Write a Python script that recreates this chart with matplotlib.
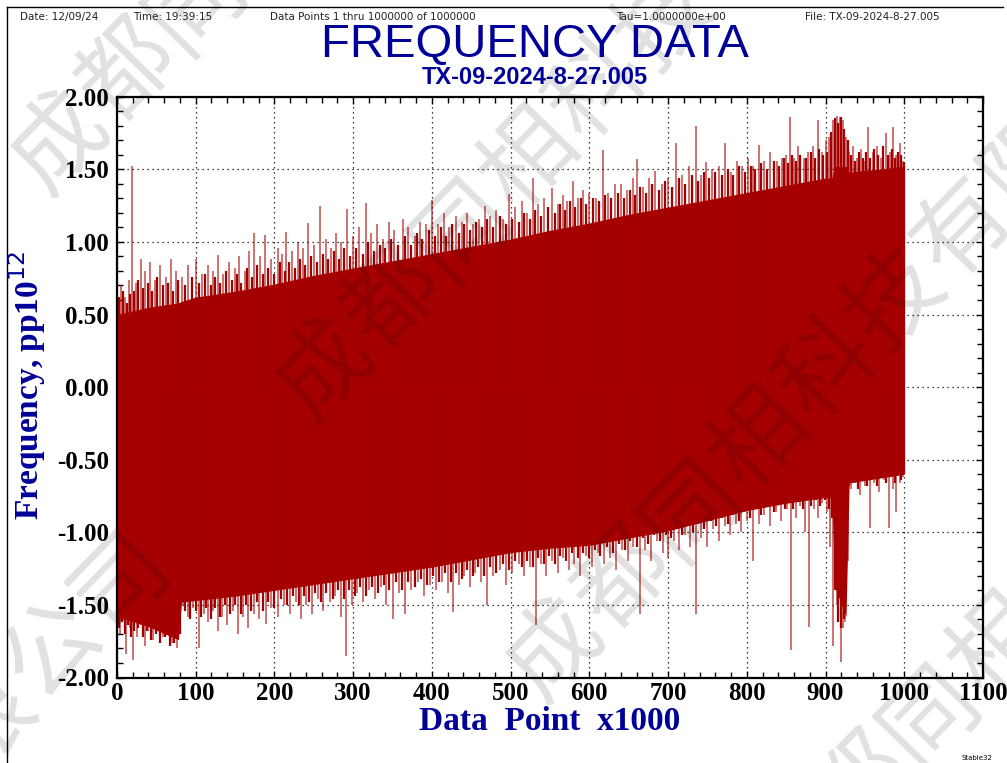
import numpy as np
import matplotlib
matplotlib.use('Agg')
import matplotlib.pyplot as plt
from matplotlib.ticker import MultipleLocator, FormatStrFormatter
from matplotlib.lines import Line2D

plt.rcParams['axes.unicode_minus'] = False

# ---- data (x in units of 1000 data points, y in pp10^12) ----
# dense core of the trace
core_x = [0, 40, 78, 82, 100, 150, 200, 250, 300, 350, 400, 450, 500, 550, 600,
          650, 700, 750, 800, 850, 900, 908, 912, 926, 930, 1000]
core_hi = [0.50, 0.55, 0.58, 0.59, 0.62, 0.66, 0.71, 0.77, 0.82, 0.87, 0.92, 0.97,
           1.02, 1.08, 1.13, 1.19, 1.24, 1.29, 1.34, 1.39, 1.44, 1.44, 1.52, 1.52,
           1.48, 1.52]
core_lo = [-1.58, -1.65, -1.74, -1.48, -1.47, -1.44, -1.40, -1.36, -1.32, -1.28,
           -1.24, -1.19, -1.14, -1.11, -1.09, -1.04, -0.99, -0.92, -0.85, -0.80,
           -0.76, -0.76, -1.38, -1.58, -0.66, -0.60]

# tall upper spikes (position, tip)
up_x = [0, 5, 10, 15, 19.5, 24, 30, 36, 42, 48, 55, 62, 68, 75, 82, 90, 100, 108,
        116, 122, 128, 135, 142, 150, 155, 162, 168, 174, 182, 188, 196, 204, 210,
        215, 222, 230, 236, 242, 250, 258, 265, 272, 278, 285, 292, 300, 308, 316,
        322, 330, 338, 345, 352, 363, 370, 378, 385, 392, 400, 408, 415, 422, 430,
        438, 445, 452, 460, 467, 474, 482, 490, 498, 506, 514, 521, 528, 535, 543,
        553, 560, 566, 572, 579, 586, 592, 600, 608, 617, 624, 632, 640, 648, 655,
        661, 668, 676, 684, 692, 700, 710, 718, 726, 735, 742, 748, 756, 765, 772,
        780, 787, 794, 802, 808, 815, 822, 830, 838, 845, 850, 855, 860, 865, 872,
        878, 884, 890, 895, 900, 905, 910, 914, 918, 922, 926, 930, 935, 940, 945,
        950, 954, 960, 965, 970, 977, 982, 986, 990, 994, 998]
up_y = [0.78, 0.70, 0.62, 0.74, 1.52, 0.72, 0.88, 0.80, 0.86, 0.74, 0.84, 0.76,
        0.88, 0.80, 0.76, 0.84, 0.88, 0.78, 0.84, 0.80, 0.91, 0.78, 0.86, 0.82,
        0.90, 0.80, 0.94, 1.06, 0.90, 1.05, 0.88, 0.96, 0.92, 1.07, 0.94, 1.00,
        0.96, 1.13, 0.98, 1.25, 1.02, 0.96, 1.06, 1.00, 1.23, 1.04, 1.10, 1.27,
        1.06, 1.12, 1.02, 1.14, 1.08, 1.16, 1.10, 1.04, 1.14, 1.12, 1.29, 1.12,
        1.20, 1.10, 1.18, 1.14, 1.20, 1.12, 1.16, 1.25, 1.18, 1.22, 1.16, 1.33,
        1.24, 1.28, 1.20, 1.44, 1.26, 1.30, 1.37, 1.26, 1.32, 1.28, 1.42, 1.30,
        1.36, 1.34, 1.30, 1.63, 1.34, 1.40, 1.40, 1.36, 1.44, 1.57, 1.38, 1.44,
        1.49, 1.40, 1.44, 1.68, 1.46, 1.52, 1.80, 1.46, 1.55, 1.50, 1.52, 1.68,
        1.48, 1.56, 1.52, 1.58, 1.52, 1.67, 1.56, 1.62, 1.56, 1.58, 1.60, 1.86,
        1.58, 1.66, 1.58, 1.62, 1.66, 1.84, 1.62, 1.70, 1.72, 1.84, 1.87, 1.86,
        1.84, 1.72, 1.62, 1.66, 1.58, 1.64, 1.56, 1.79, 1.62, 1.66, 1.58, 1.75,
        1.62, 1.79, 1.60, 1.68, 1.56]

# shorter upper spikes in the ragged fringe
up2_x = [2.5, 7.5, 12.5, 17, 22, 27, 33, 39, 45, 51, 58, 65, 71, 78, 86, 95, 104,
         112, 119, 125, 131, 138, 146, 152, 158, 165, 171, 178, 185, 192, 200, 207,
         213, 219, 226, 233, 239, 246, 254, 262, 268, 275, 282, 288, 296, 304, 312,
         319, 326, 334, 341, 348, 357, 366, 374, 381, 388, 396, 404, 411, 418, 426,
         434, 441, 448, 456, 463, 470, 478, 486, 494, 502, 510, 517, 524, 531, 539,
         548, 556, 563, 569, 575, 582, 589, 596, 604, 612, 620, 628, 636, 644, 651,
         658, 664, 672, 680, 688, 696, 705, 714, 722, 730, 738, 745, 752, 760, 768,
         776, 783, 790, 798, 805, 811, 818, 826, 834, 841, 847, 852, 857, 862, 868,
         875, 881, 887, 892, 897, 902, 907, 912, 916, 920, 924, 928, 932, 937, 942,
         947, 952, 957, 962, 967, 973, 979, 984, 988, 992, 996, 1000]
up2_y = [0.62, 0.66, 0.58, 0.64, 0.66, 0.74, 0.68, 0.72, 0.66, 0.76, 0.70, 0.72,
         0.66, 0.74, 0.70, 0.76, 0.72, 0.78, 0.70, 0.76, 0.72, 0.80, 0.74, 0.78,
         0.72, 0.82, 0.76, 0.84, 0.78, 0.82, 0.78, 0.86, 0.80, 0.86, 0.82, 0.88,
         0.84, 0.90, 0.86, 0.92, 0.88, 0.94, 0.88, 0.96, 0.90, 0.96, 0.92, 1.00,
         0.94, 0.98, 0.96, 1.02, 0.98, 1.04, 0.98, 1.06, 1.02, 1.08, 1.04, 1.10,
         1.04, 1.12, 1.06, 1.12, 1.08, 1.14, 1.10, 1.16, 1.10, 1.18, 1.12, 1.16,
         1.14, 1.20, 1.16, 1.22, 1.18, 1.24, 1.20, 1.26, 1.22, 1.28, 1.24, 1.30,
         1.26, 1.30, 1.28, 1.32, 1.30, 1.34, 1.30, 1.36, 1.32, 1.38, 1.34, 1.40,
         1.36, 1.42, 1.38, 1.44, 1.40, 1.46, 1.42, 1.48, 1.44, 1.48, 1.46, 1.50,
         1.46, 1.52, 1.48, 1.52, 1.50, 1.54, 1.50, 1.56, 1.52, 1.58, 1.54, 1.60,
         1.56, 1.60, 1.58, 1.62, 1.58, 1.64, 1.60, 1.62, 1.76, 1.85, 1.82, 1.86,
         1.78, 1.70, 1.60, 1.56, 1.62, 1.58, 1.62, 1.58, 1.64, 1.60, 1.66, 1.60,
         1.64, 1.58, 1.62, 1.60, 1.55]

# tall lower spikes (position, tip)
lo_x = [0, 4, 8, 12, 16, 20, 25, 30, 35, 40, 46, 52, 58, 64, 70, 76, 84, 90, 96,
        104, 110, 116, 122, 128, 134, 140, 147, 154, 160, 167, 174, 181, 189, 196,
        204, 212, 220, 227, 234, 240, 248, 255, 262, 270, 277, 284, 291, 298, 305,
        312, 320, 328, 335, 342, 350, 358, 366, 374, 382, 390, 398, 405, 413, 420,
        427, 434, 441, 448, 455, 462, 470, 478, 486, 494, 502, 510, 517, 525, 532,
        538, 545, 552, 560, 567, 574, 581, 588, 596, 603, 611, 618, 626, 634, 641,
        649, 656, 664, 671, 678, 686, 693, 700, 707, 714, 721, 728, 735, 742, 750,
        757, 765, 772, 779, 786, 793, 800, 808, 815, 822, 830, 837, 844, 851, 856,
        862, 868, 874, 879, 885, 890, 896, 902, 906, 910, 914, 917, 919, 922, 925,
        928, 932, 938, 944, 950, 956, 962, 968, 974, 980, 986, 990, 994, 998]
lo_y = [-1.62, -1.70, -1.60, -1.84, -1.66, -1.88, -1.72, -1.64, -1.78, -1.68,
        -1.74, -1.66, -1.72, -1.64, -1.76, -1.80, -1.50, -1.58, -1.52, -1.80,
        -1.56, -1.62, -1.54, -1.68, -1.58, -1.64, -1.54, -1.70, -1.58, -1.66,
        -1.56, -1.60, -1.63, -1.52, -1.58, -1.50, -1.56, -1.48, -1.60, -1.50,
        -1.56, -1.46, -1.54, -1.48, -1.44, -1.58, -1.85, -1.50, -1.42, -1.48,
        -1.40, -1.46, -1.38, -1.50, -1.60, -1.42, -1.56, -1.40, -1.34, -1.44,
        -1.36, -1.40, -1.34, -1.42, -1.55, -1.36, -1.30, -1.38, -1.28, -1.34,
        -1.50, -1.30, -1.26, -1.36, -1.28, -1.22, -1.30, -1.24, -1.64, -1.22,
        -1.30, -1.20, -1.28, -1.18, -1.26, -1.22, -1.30, -1.16, -1.24, -1.14,
        -1.22, -1.18, -1.26, -1.12, -1.20, -1.10, -1.56, -1.12, -1.20, -1.06,
        -1.14, -1.18, -1.06, -1.12, -1.02, -1.10, -1.56, -1.04, -1.10, -0.98,
        -1.06, -0.96, -1.02, -0.94, -1.00, -0.92, -1.20, -0.94, -0.88, -0.96,
        -0.86, -0.92, -0.84, -1.81, -0.90, -0.82, -1.00, -1.65, -0.84, -0.90,
        -0.80, -0.86, -1.10, -1.78, -1.50, -1.40, -1.89, -1.66, -1.62, -1.20,
        -0.70, -0.66, -0.74, -0.68, -0.97, -0.66, -0.72, -0.64, -0.97, -0.70,
        -0.86, -0.66, -0.62]

# shorter lower spikes in the ragged fringe
lo2_x = [2, 6, 10, 14, 18, 22, 27, 33, 38, 43, 49, 55, 61, 67, 73, 80, 87, 93, 100,
         107, 113, 119, 125, 131, 137, 144, 150, 157, 164, 170, 178, 185, 192, 200,
         208, 216, 224, 231, 237, 244, 252, 259, 266, 274, 281, 288, 295, 302, 309,
         316, 324, 332, 339, 346, 354, 362, 370, 378, 386, 394, 402, 409, 416, 424,
         431, 438, 445, 452, 458, 466, 474, 482, 490, 498, 506, 514, 521, 528, 535,
         542, 549, 556, 563, 570, 578, 585, 592, 600, 607, 614, 622, 630, 638, 645,
         652, 660, 668, 675, 682, 690, 697, 704, 710, 718, 724, 732, 738, 746, 754,
         761, 768, 776, 782, 790, 797, 804, 812, 818, 826, 834, 840, 848, 854, 859,
         865, 871, 877, 882, 888, 893, 899, 904, 908, 912, 916, 920, 924, 930, 935,
         941, 947, 953, 959, 965, 971, 977, 983, 988, 992, 996, 1000]
lo2_y = [-1.66, -1.62, -1.70, -1.64, -1.72, -1.68, -1.66, -1.72, -1.68, -1.74,
         -1.70, -1.76, -1.72, -1.78, -1.76, -1.70, -1.54, -1.60, -1.54, -1.58,
         -1.52, -1.60, -1.52, -1.58, -1.50, -1.56, -1.50, -1.56, -1.50, -1.54,
         -1.48, -1.54, -1.48, -1.52, -1.46, -1.50, -1.44, -1.50, -1.44, -1.48,
         -1.42, -1.48, -1.42, -1.46, -1.40, -1.46, -1.40, -1.44, -1.38, -1.44,
         -1.38, -1.42, -1.36, -1.40, -1.34, -1.40, -1.34, -1.38, -1.32, -1.36,
         -1.30, -1.34, -1.28, -1.34, -1.28, -1.32, -1.26, -1.30, -1.24, -1.30,
         -1.24, -1.28, -1.22, -1.26, -1.20, -1.24, -1.20, -1.24, -1.18, -1.22,
         -1.16, -1.22, -1.16, -1.20, -1.14, -1.18, -1.14, -1.18, -1.12, -1.16,
         -1.10, -1.14, -1.08, -1.12, -1.06, -1.10, -1.04, -1.08, -1.02, -1.06,
         -1.02, -1.04, -0.98, -1.02, -0.96, -1.00, -0.94, -0.98, -0.92, -0.96,
         -0.90, -0.94, -0.88, -0.92, -0.86, -0.90, -0.84, -0.88, -0.82, -0.86,
         -0.80, -0.84, -0.80, -0.84, -0.78, -0.84, -0.78, -0.82, -0.78, -0.82,
         -0.78, -0.84, -0.90, -1.40, -1.62, -1.66, -1.60, -0.68, -0.64, -0.70,
         -0.64, -0.68, -0.62, -0.68, -0.62, -0.66, -0.62, -0.66, -0.60, -0.64,
         -0.60]

x_ticks = np.arange(0, 1101, 100)
y_ticks = np.arange(-2.0, 2.01, 0.5)

header = [("Date: 12/09/24", 20), ("Time: 19:39:15", 133),
          ("Data Points 1 thru 1000000 of 1000000", 270),
          ("Tau=1.0000000e+00", 616), ("File: TX-09-2024-8-27.005", 805)]
watermark_chars = "成都同相科技有限公司　　"

W, H = 1007, 763
fig = plt.figure(figsize=(W / 100, H / 100), dpi=100)
ax = fig.add_axes([117 / W, 1 - 677.5 / H, 866 / W, 580.8 / H])

red = '#a40000'
ax.fill_between(core_x, core_lo, core_hi, color=red, lw=0, zorder=2)
ax.vlines(up2_x, 0, up2_y, color=red, lw=1.6, zorder=2)
ax.vlines(lo2_x, 0, lo2_y, color=red, lw=1.6, zorder=2)
ax.vlines(up_x, 0, up_y, color='#a80000', lw=1.1, alpha=0.7, zorder=2)
ax.vlines(lo_x, 0, lo_y, color='#a80000', lw=1.1, alpha=0.7, zorder=2)

ax.set_xlim(0, 1100)
ax.set_ylim(-2, 2)
ax.set_xticks(x_ticks)
ax.set_yticks(y_ticks)
ax.xaxis.set_minor_locator(MultipleLocator(20))
ax.yaxis.set_minor_locator(MultipleLocator(0.1))
ax.yaxis.set_major_formatter(FormatStrFormatter('%.2f'))
ax.grid(True, which='major', color='black', linestyle=(0, (1, 3)), lw=0.9)
ax.set_axisbelow(True)
ax.tick_params(which='both', direction='in', top=True, right=True, width=1, color='black')
ax.tick_params(which='major', length=5)
ax.tick_params(which='minor', length=4)
ax.tick_params(axis='y', pad=6)
ax.tick_params(axis='x', pad=3)
for lab in ax.get_xticklabels() + ax.get_yticklabels():
    lab.set_fontfamily('Liberation Serif')
    lab.set_fontsize(18)
    lab.set_fontweight('bold')
for s in ax.spines.values():
    s.set_linewidth(1.6)

# titles and labels
blue = '#000099'
fig.text(535 / W, 1 - 45 / H, "FREQUENCY DATA", ha='center', va='center',
         fontfamily='Liberation Sans', fontsize=34, color=blue)
fig.text(535 / W, 1 - 77 / H, "TX-09-2024-8-27.005", ha='center', va='center',
         fontfamily='Liberation Sans', fontsize=17, fontweight='bold', color=blue)
for txt, x in header:
    fig.text(x / W, 1 - 17 / H, txt, ha='left', va='center',
             fontfamily='DejaVu Sans', fontsize=7.5, color='#222222')
fig.text(550 / W, 1 - 722 / H, "Data  Point  x1000", ha='center', va='center',
         fontfamily='Liberation Serif', fontsize=24, fontweight='bold', color=blue)
fig.text(27 / W, 1 - 385 / H, "Frequency, pp10$^{12}$", ha='center', va='center',
         rotation=90, fontfamily='Liberation Serif', fontsize=24, fontweight='bold',
         color=blue)
fig.text(977 / W, 1 - 758 / H, "Stable32", ha='center', va='center',
         fontfamily='DejaVu Sans', fontsize=5, color='black')

# border of the page
fig.add_artist(Line2D([7 / W, 7 / W], [0, 1 - 7 / H], color='black', lw=1))
fig.add_artist(Line2D([7 / W, 1003 / W], [1 - 7 / H, 1 - 7 / H], color='black', lw=1))

# watermark, one glyph at a time along the diagonals
step = np.array([68.0, -70.0])
n = len(watermark_chars)
for cx, cy in [(60, 143), (325, 370), (555, 650), (794, 856)]:
    for k in range(-2 * n, 2 * n):
        ch = watermark_chars[k % n]
        px, py = np.array([cx, cy]) + k * step
        if ch == '　' or not (-30 < px < W + 30 and -30 < py < H + 30):
            continue
        fig.text(px / W, 1 - py / H, ch, ha='center', va='center',
                 rotation=45.8, rotation_mode='anchor', fontsize=68,
                 fontfamily=['Noto Sans CJK SC', 'DejaVu Sans'], color='black',
                 alpha=0.12, zorder=2.5)

fig.savefig('out.png', dpi=100)
